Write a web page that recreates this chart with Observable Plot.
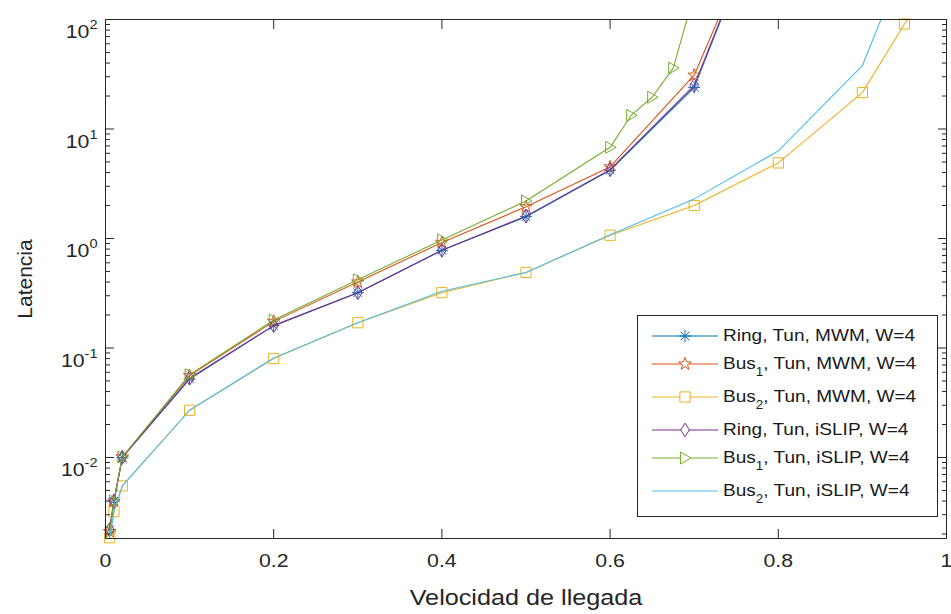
<!DOCTYPE html>
<html><head><meta charset="utf-8">
<script src="https://cdn.jsdelivr.net/npm/d3@7"></script>
<script src="https://cdn.jsdelivr.net/npm/@observablehq/plot@0.6"></script>
<style>
body{margin:0;background:#fff;}
#wrap{position:relative;width:951px;height:614px;font-family:"Liberation Sans",Arial,sans-serif;color:#262626;}
#wrap svg{display:block;}
#legend{position:absolute;left:637px;top:315px;width:301px;height:202px;box-sizing:border-box;border:1px solid #262626;background:#fff;}
#legend svg.samp{position:absolute;left:0;top:0;}
#legend .lbl{position:absolute;left:85px;height:28px;line-height:28px;font-size:17px;color:#1a1a1a;transform:scaleX(1.12);transform-origin:left center;white-space:nowrap;}
#legend .sub{font-size:12px;position:relative;top:7px;}
</style></head>
<body><div id="wrap"></div>
<script>
// ---------- data ----------
const xCommon     = [0.005, 0.01, 0.02, 0.1, 0.2, 0.3, 0.4, 0.5, 0.6, 0.7, 0.8];
const ringMWM     = [0.0022, 0.0040, 0.0100, 0.052, 0.16, 0.32, 0.78, 1.58, 4.2, 24, 2100];
const bus1MWM     = [0.0021, 0.0040, 0.0101, 0.056, 0.175, 0.40, 0.92, 1.95, 4.5, 31, 1900];
const ringISLIP   = [0.0022, 0.0040, 0.0100, 0.053, 0.16, 0.32, 0.78, 1.6, 4.25, 25, 2100];
const xBus1ISLIP  = [0.005, 0.01, 0.02, 0.1, 0.2, 0.3, 0.4, 0.5, 0.6, 0.625, 0.65, 0.675, 0.7];
const bus1ISLIP   = [0.0021, 0.0040, 0.0101, 0.057, 0.18, 0.42, 0.97, 2.2, 6.8, 13.3, 19.5, 36, 170];
const xBus2MWM    = [0.005, 0.01, 0.02, 0.1, 0.2, 0.3, 0.4, 0.5, 0.6, 0.7, 0.8, 0.9, 0.95, 1.0];
const bus2MWM     = [0.00185, 0.0032, 0.0055, 0.027, 0.08, 0.17, 0.32, 0.49, 1.07, 2.0, 4.9, 21.5, 91, 300];
const xBus2ISLIP  = [0.005, 0.01, 0.02, 0.1, 0.2, 0.3, 0.4, 0.5, 0.6, 0.7, 0.8, 0.9, 0.95];
const bus2ISLIP   = [0.00185, 0.0032, 0.0055, 0.027, 0.081, 0.17, 0.33, 0.49, 1.08, 2.3, 6.3, 38, 340];

const xTicks = [0, 0.2, 0.4, 0.6, 0.8, 1];
const yTicks = [0.01, 0.1, 1, 10, 100];
const yMin = 0.00182, yMax = 100;
const xLabel = "Velocidad de llegada";
const yLabel = "Latencia";

// ---------- symbols ----------
const rOf = s => Math.sqrt(s / Math.PI);
const symAsterisk = {draw(c, s){const r=rOf(s), d=r*0.7071;
  c.moveTo(-r,0);c.lineTo(r,0);c.moveTo(0,-r);c.lineTo(0,r);
  c.moveTo(-d,-d);c.lineTo(d,d);c.moveTo(-d,d);c.lineTo(d,-d);}};
const symPentagram = {draw(c, s){const R=rOf(s)*1.1, ri=R*0.4;
  for(let i=0;i<10;i++){const a=-Math.PI/2+i*Math.PI/5, rr=i%2?ri:R;
    const x=rr*Math.cos(a), y=rr*Math.sin(a); i?c.lineTo(x,y):c.moveTo(x,y);} c.closePath();}};
const symSquare = {draw(c, s){const r=rOf(s)*0.85; c.rect(-r,-r,2*r,2*r);}};
const symDiamond = {draw(c, s){const r=rOf(s);
  c.moveTo(0,-r*1.15);c.lineTo(r*0.72,0);c.lineTo(0,r*1.15);c.lineTo(-r*0.72,0);c.closePath();}};
const symTriRight = {draw(c, s){const r=rOf(s);
  c.moveTo(r,0);c.lineTo(-r*0.75,-r);c.lineTo(-r*0.75,r);c.closePath();}};

const series = [
  {pre:"Ring", sub:"",  post:", Tun, MWM, W=4",   color:"#0072BD", symbol:symAsterisk,  x:xCommon,    y:ringMWM},
  {pre:"Bus",  sub:"1", post:", Tun, MWM, W=4",   color:"#D95319", symbol:symPentagram, x:xCommon,    y:bus1MWM},
  {pre:"Bus",  sub:"2", post:", Tun, MWM, W=4",   color:"#EDB120", symbol:symSquare,    x:xBus2MWM,   y:bus2MWM},
  {pre:"Ring", sub:"",  post:", Tun, iSLIP, W=4", color:"#7E2F8E", symbol:symDiamond,   x:xCommon,    y:ringISLIP},
  {pre:"Bus",  sub:"1", post:", Tun, iSLIP, W=4", color:"#77AC30", symbol:symTriRight,  x:xBus1ISLIP, y:bus1ISLIP},
  {pre:"Bus",  sub:"2", post:", Tun, iSLIP, W=4", color:"#4DBEEE", symbol:null,         x:xBus2ISLIP, y:bus2ISLIP}
];

const ink = "#262626";
const R = 6;

// minor log ticks
const yMinor = [];
for (let e = -3; e <= 1; e++) for (let k = 2; k <= 9; k++) {
  const v = k * Math.pow(10, e); if (v >= yMin && v <= yMax) yMinor.push(v);
}

const dataMarks = [];
series.forEach(s => {
  const data = s.x.map((x, j) => ({x, y: s.y[j]}));
  dataMarks.push(Plot.line(data, {x:"x", y:"y", stroke:s.color, strokeWidth:1.1, clip:true}));
  if (s.symbol) dataMarks.push(Plot.dot(data.filter(d => d.y <= yMax), {x:"x", y:"y", stroke:s.color, fill:"none", symbol:s.symbol, r:R, strokeWidth:1}));
});

const svg = Plot.plot({
  width: 951, height: 614,
  marginLeft: 105, marginRight: 5, marginTop: 19, marginBottom: 76,
  style: {fontFamily: '"Liberation Sans", Arial, sans-serif', fontSize: "19px", color: ink, background: "white", overflow: "visible"},
  x: {domain: [0, 1]},
  y: {type: "log", domain: [yMin, yMax]},
  marks: [
    ...dataMarks,
    Plot.frame({stroke: ink, strokeWidth: 1}),
    // y ticks (inward)
    Plot.axisY({ticks: yTicks, anchor: "left", tickSize: 9, dx: 9, fill: "none", stroke: ink}),
    Plot.axisY({ticks: yTicks, anchor: "right", tickSize: 9, dx: -9, fill: "none", stroke: ink}),
    Plot.axisY({ticks: yMinor, anchor: "left", tickSize: 5, dx: 5, fill: "none", stroke: ink}),
    Plot.axisY({ticks: yMinor, anchor: "right", tickSize: 5, dx: -5, fill: "none", stroke: ink}),
    Plot.axisY({ticks: yTicks, anchor: "left", tickSize: 0, tickPadding: 8, stroke: "none", fill: ink, fontSize: 19, label: null,
      tickFormat: d => String(Math.round(Math.log10(d)))}),
    // x ticks (inward)
    Plot.axisX({ticks: xTicks, anchor: "bottom", tickSize: 9, dy: -9, fill: "none", stroke: ink}),
    Plot.axisX({ticks: xTicks, anchor: "top", tickSize: 9, dy: 9, fill: "none", stroke: ink}),
    Plot.axisX({ticks: xTicks, anchor: "bottom", tickSize: 0, tickPadding: 15, stroke: "none", fill: ink, fontSize: 19, label: null,
      tickFormat: d => String(d)}),
    Plot.text([xLabel], {text: d => d, frameAnchor: "bottom", lineAnchor: "middle", textAnchor: "middle", dy: 59, fontSize: 22.5, fill: ink}),
    Plot.text([yLabel], {text: d => d, frameAnchor: "left", lineAnchor: "middle", textAnchor: "middle", dx: -80, rotate: -90, fontSize: 21, fill: ink, className: "ylab"})
  ]
});

const wrap = document.getElementById("wrap");
wrap.appendChild(svg);

// superscript tick labels
svg.querySelectorAll('g[aria-label="y-axis tick label"] text').forEach(t => {
  const n = t.textContent;
  t.textContent = "";
  t.setAttribute("dy", "12.5");
  const a = document.createElementNS("http://www.w3.org/2000/svg", "tspan");
  a.textContent = "10";
  const b = document.createElementNS("http://www.w3.org/2000/svg", "tspan");
  b.textContent = n; b.setAttribute("dy", "-9"); b.setAttribute("font-size", "13");
  t.appendChild(a); t.appendChild(b);
});

// horizontal stretch of texts (the reference is stretched horizontally)
const STRETCH = 1.12;
svg.querySelectorAll("text").forEach(t => {
  if (t.closest(".ylab")) return;
  const L = t.getComputedTextLength();
  if (L > 0) { t.setAttribute("textLength", (L * STRETCH).toFixed(2)); t.setAttribute("lengthAdjust", "spacingAndGlyphs"); }
});

// ---------- legend ----------
const legend = document.createElement("div");
legend.id = "legend";
wrap.appendChild(legend);
const rowH = series.map(s => s.sub ? 33 : 28);
const centers = []; let acc = 6;
rowH.forEach(h => { centers.push(acc + 14); acc += h; });
const samp = d3.create("svg").attr("class", "samp").attr("width", 299).attr("height", 200);
series.forEach((s, i) => {
  const cy = centers[i];
  samp.append("line").attr("x1", 14).attr("x2", 80).attr("y1", cy).attr("y2", cy).attr("stroke", s.color).attr("stroke-width", 1.1);
  if (s.symbol) samp.append("path").attr("d", d3.symbol(s.symbol, R * R * Math.PI)()).attr("transform", `translate(47,${cy})`)
    .attr("fill", "white").attr("stroke", s.color).attr("stroke-width", 1);
  const lbl = document.createElement("div");
  lbl.className = "lbl";
  lbl.style.top = (cy - 14) + "px";
  lbl.innerHTML = s.pre + (s.sub ? `<span class="sub">${s.sub}</span>` : "") + s.post;
  legend.appendChild(lbl);
});
legend.appendChild(samp.node());
</script>
</body></html>
